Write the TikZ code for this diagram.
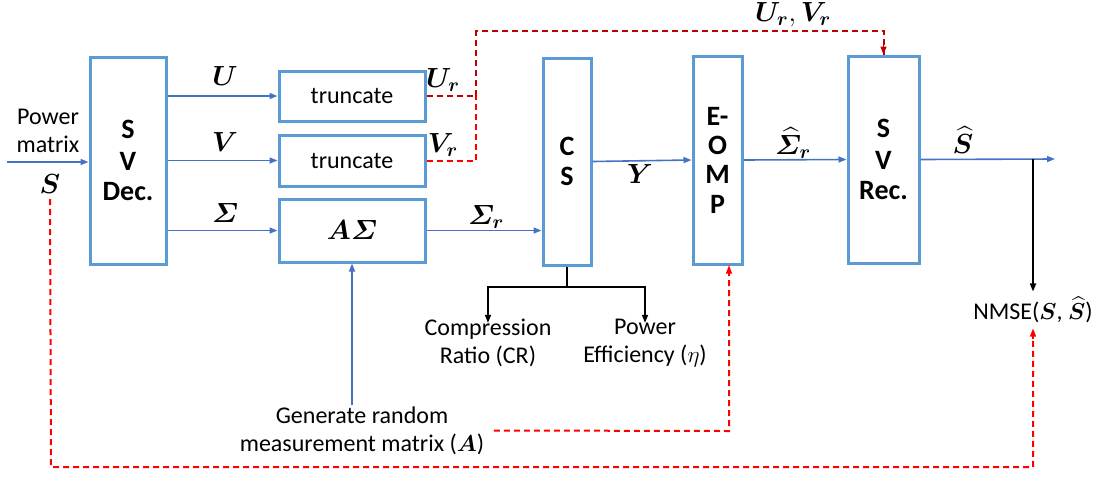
\documentclass[tikz,border=0pt]{standalone}
\usepackage{fontspec}
\setmainfont{Carlito}
\usepackage{amsmath}
\usepackage{bm}
\usetikzlibrary{arrows.meta,calc}
\definecolor{boxblue}{HTML}{5B9BD5}
\definecolor{arrblue}{HTML}{4472C4}
\definecolor{dred}{HTML}{C00000}
\definecolor{bred}{HTML}{FF0000}
\begin{document}
\begin{tikzpicture}[x=0.75pt,y=-0.75pt,
  font=\fontsize{18}{21}\selectfont,
  blkbox/.style={draw=boxblue,line width=2.25pt,inner sep=0pt,fill=white},
  big/.style={font=\fontsize{21}{22}\selectfont\bfseries,align=center},
  lbl/.style={inner sep=1pt},
  mlbl/.style={inner sep=1pt,font=\fontsize{20}{22}\selectfont},
  arr/.style={draw=arrblue,line width=1.2pt,-{Triangle[length=6pt,width=4.5pt]}},
  blkarr/.style={draw=black,line width=1.2pt,-{Triangle[length=6pt,width=4.5pt]}},
  blkline/.style={draw=black,line width=1.2pt},
  rdash/.style={draw=bred,line width=1.5pt,dash pattern=on 4.5pt off 3pt},
  ddash/.style={draw=dred,line width=1.5pt,dash pattern=on 4.5pt off 3pt},
  tip/.style={-{Triangle[length=6pt,width=4.5pt]}}
]
\useasboundingbox (0,0) rectangle (1097,483);

% boxes
\node[blkbox,big,minimum width=57pt,minimum height=155.25pt] (SVDec) at (128,160.5) {S\\[2pt]V\\[0pt]Dec.};
\node[blkbox,minimum width=109.5pt,minimum height=37.5pt] (tr1) at (352,96) {truncate};
\node[blkbox,minimum width=109.5pt,minimum height=38.25pt] (tr2) at (352,160.5) {truncate};
\node[blkbox,minimum width=109.5pt,minimum height=47.25pt,font=\fontsize{20}{22}\selectfont] (AS) at (352,230.5) {$\bm{A\varSigma}$};
\node[blkbox,big,minimum width=36pt,minimum height=155.25pt] (CS) at (567,161.5) {C\\[0pt]S};
\node[blkbox,big,minimum width=36.75pt,minimum height=156pt] (EOMP) at (717.5,160) {E-\\[0pt]O\\[0pt]M\\[0pt]P};
\node[blkbox,big,minimum width=53.25pt,minimum height=155.25pt] (SVRec) at (883.5,159.5) {S\\[2pt]V\\[0pt]Rec.};

% text nodes
\node[lbl,align=center] (pm) at (48,131) {Power\\matrix};
\node[mlbl] (Slab) at (50,184) {$\bm{S}$};
\node[mlbl] (Ulab) at (225,76) {$\bm{U}$};
\node[mlbl] (Vlab) at (225,142) {$\bm{V}$};
\node[mlbl] (Siglab) at (225,213) {$\bm{\varSigma}$};
\node[mlbl] (Urlab) at (443,80) {$\bm{U_r}$};
\node[mlbl] (Vrlab) at (443,145) {$\bm{V_r}$};
\node[mlbl] (Sigrlab) at (486,217) {$\bm{\varSigma_r}$};
\node[mlbl] (Ylab) at (640,174) {$\bm{Y}$};
\node[mlbl] (Sighatlab) at (793,143) {$\widehat{\bm{\varSigma}}_{\bm{r}}$};
\node[mlbl] (Shatlab) at (963,140) {$\widehat{\bm{S}}$};
\node[mlbl] (UVlab) at (793,15) {$\bm{U_r},\bm{V_r}$};
\node[lbl,align=center] (cr) at (488,343) {Compression\\Ratio (CR)};
\node[lbl,align=center] (pe) at (645,343) {Power\\Efficiency ($\eta$)};
\node[lbl,align=center] (gen) at (362,430.5) {Generate random\\measurement matrix ($\bm{A}$)};
\node[lbl] (nmse) at (1033,310) {NMSE($\bm{S}$, $\widehat{\bm{S}}$)};

% coordinates
\coordinate (in) at (7,162);
\coordinate (out) at (1055,159);
\coordinate (jn) at (476,96);
\coordinate (topc) at (476,31);
\coordinate (csj) at (567,287);
\coordinate (bot) at (51,467);
\coordinate (genr) at (729,431);

% blue arrows
\draw[arr] (in) -- (in -| SVDec.west);
\draw[arr] (SVDec.east |- tr1) -- (tr1.west);
\draw[arr] (SVDec.east |- tr2) -- (tr2.west);
\draw[arr] (SVDec.east |- AS) -- (AS.west);
\draw[arr] (AS.east) -- (AS.east -| CS.west);
\draw[arr] (CS.east) -- (EOMP.west);
\draw[arr] (EOMP.east) -- (SVRec.west);
\draw[arr] (SVRec.east) -- (out);
\draw[arr] (AS.south |- gen.north) -- (AS.south);

% black
\draw[blkline] (CS.south) -- (csj);
\draw[blkarr] (csj) -| ([yshift=-4pt]cr.north);
\draw[blkarr] (csj) -| ([yshift=-4pt]pe.north);
\draw[blkarr] (nmse.north |- out) -- ([yshift=3pt]nmse.north);

% red dashed
\draw[ddash] (tr1.east) -- (jn) -- (topc) -| (SVRec.north);
\draw[dred,line width=1pt,tip] ([yshift=8pt]SVRec.north) -- (SVRec.north);
\draw[rdash] (tr2.east) -| (jn);
\draw[rdash] ([yshift=-3pt]Slab.south) -- (bot) -| ([yshift=-3pt]nmse.south);
\draw[bred,line width=1pt,tip] ([yshift=-11pt]nmse.south) -- ([yshift=-3pt]nmse.south);
\draw[rdash] ([xshift=6pt]gen.east) -- (genr) -- (genr |- EOMP.south);
\draw[bred,line width=1pt,tip] ([yshift=-8pt]genr |- EOMP.south) -- (genr |- EOMP.south);
\end{tikzpicture}
\end{document}
